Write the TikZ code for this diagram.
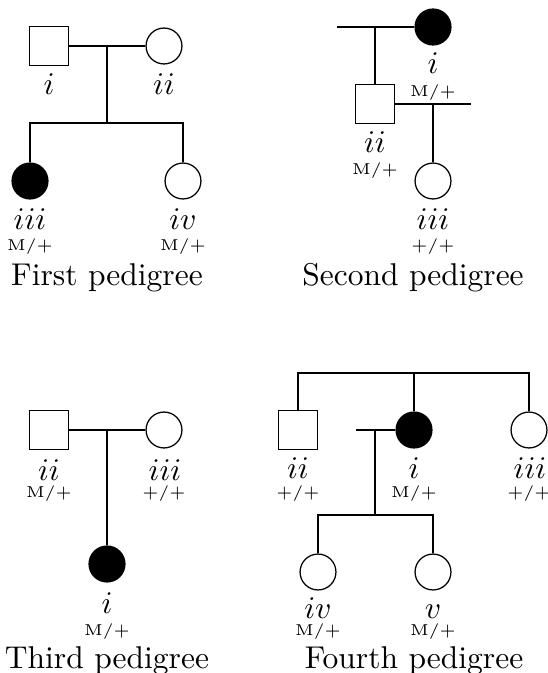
\documentclass[tikz,border=0pt]{standalone}
\tikzset{
  male/.style={draw, rectangle, minimum size=12.2pt, inner sep=0pt},
  female/.style={draw, circle, minimum size=11.4pt, inner sep=0pt},
  affected/.style={fill=black},
  tag/.style={anchor=base, inner sep=0pt, font=\normalsize},
  geno/.style={anchor=base, inner sep=0pt, font=\tiny},
  title/.style={anchor=base, inner sep=0pt, font=\normalsize},
}
\begin{document}
\begin{tikzpicture}[x=0.3175pt, y=-0.3175pt]
\useasboundingbox (0,0) rectangle (547,673);

% ---------- First pedigree ----------
\node[male]   (a1) at (49,46) {};
\node[female] (a2) at (164,46) {};
\node[female, affected] (a3) at (30,181) {};
\node[female] (a4) at (183,181) {};
\coordinate (a12) at (107,46);
\coordinate (a12s) at (107,123);
\coordinate (a3s) at (30,123);
\coordinate (a4s) at (183,123);
\draw (a1.east) -- (a2.west);
\draw (a12) -- (a12s);
\draw (a3.north) -- (a3s) -- (a4s) -- (a4.north);
\node[tag] (a1t) at (49,95) {$i$};
\node[tag] (a2t) at (164,95) {$ii$};
\node[tag] (a3t) at (30,230) {$iii$};
\node[geno] (a3g) at (30,250) {M/+};
\node[tag] (a4t) at (183,230) {$iv$};
\node[geno] (a4g) at (183,250) {M/+};
\node[title] (at) at (107,285) {First pedigree};

% ---------- Second pedigree ----------
\node[female, affected] (b1) at (433,27) {};
\node[male]   (b2) at (375,104) {};
\node[female] (b3) at (433,181) {};
\coordinate (b1l) at (337,27);
\coordinate (b1d) at (375,27);
\coordinate (b2r) at (471,104);
\coordinate (b2d) at (433,104);
\draw (b1l) -- (b1.west);
\draw (b1d) -- (b2.north);
\draw (b2.east) -- (b2r);
\draw (b2d) -- (b3.north);
\node[tag] (b1t) at (433,74) {$i$};
\node[geno] (b1g) at (433,97) {M/+};
\node[tag] (b2t) at (375,153) {$ii$};
\node[geno] (b2g) at (375,175) {M/+};
\node[tag] (b3t) at (433,230) {$iii$};
\node[geno] (b3g) at (433,250) {+/+};
\node[title] (bt) at (413,285) {Second pedigree};

% ---------- Third pedigree ----------
\node[male]   (c2) at (49,430) {};
\node[female] (c3) at (164,430) {};
\node[female, affected] (c1) at (107,564) {};
\coordinate (c23) at (107,430);
\draw (c2.east) -- (c3.west);
\draw (c23) -- (c1.north);
\node[tag] (c2t) at (49,480) {$ii$};
\node[geno] (c2g) at (49,497) {M/+};
\node[tag] (c3t) at (165,480) {$iii$};
\node[geno] (c3g) at (164,497) {+/+};
\node[tag] (c1t) at (107,613) {$i$};
\node[geno] (c1g) at (107,635) {M/+};
\node[title] (ct) at (107,668) {Third pedigree};

% ---------- Fourth pedigree ----------
\node[male]   (d2) at (298,430) {};
\node[female, affected] (d1) at (414,430) {};
\node[female] (d3) at (529,430) {};
\node[female] (d4) at (318,572) {};
\node[female] (d5) at (433,572) {};
\coordinate (d2u) at (298,373);
\coordinate (d1u) at (414,373);
\coordinate (d3u) at (529,373);
\coordinate (d1l) at (356,430);
\coordinate (d1m) at (375,430);
\coordinate (d1s) at (375,515);
\coordinate (d4s) at (318,515);
\coordinate (d5s) at (433,515);
\draw (d2.north) -- (d2u) -- (d3u) -- (d3.north);
\draw (d1u) -- (d1.north);
\draw (d1l) -- (d1.west);
\draw (d1m) -- (d1s);
\draw (d4.north) -- (d4s) -- (d5s) -- (d5.north);
\node[tag] (d2t) at (298,478) {$ii$};
\node[geno] (d2g) at (298,497) {+/+};
\node[tag] (d1t) at (414,478) {$i$};
\node[geno] (d1g) at (414,497) {M/+};
\node[tag] (d3t) at (530,478) {$iii$};
\node[geno] (d3g) at (529,497) {+/+};
\node[tag] (d4t) at (318,618) {$iv$};
\node[geno] (d4g) at (318,635) {M/+};
\node[tag] (d5t) at (433,618) {$v$};
\node[geno] (d5g) at (433,635) {M/+};
\node[title] (dt) at (414,668) {Fourth pedigree};
\end{tikzpicture}
\end{document}
